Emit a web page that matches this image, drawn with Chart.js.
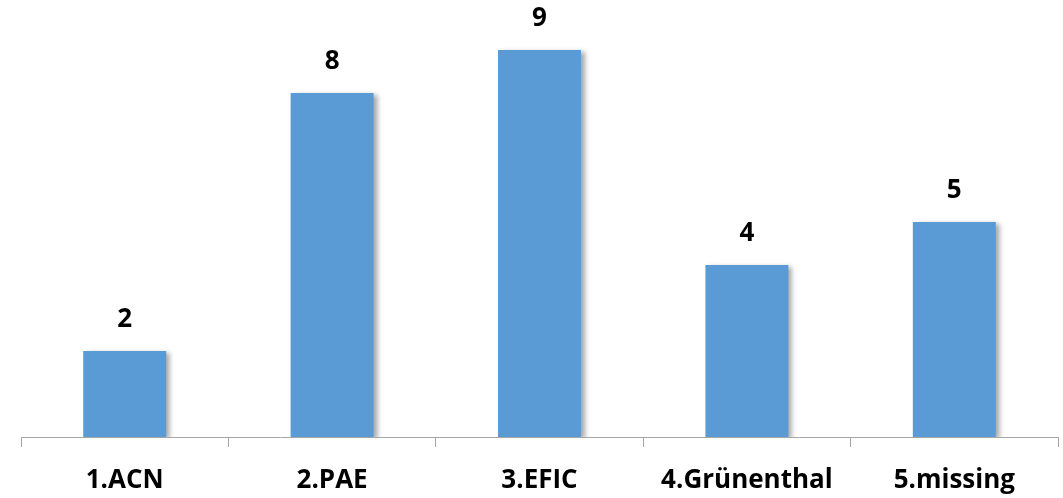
<!DOCTYPE html>
<html>
<head>
<meta charset="utf-8">
<script src="https://cdn.jsdelivr.net/npm/chart.js@4/dist/chart.umd.min.js"></script>
<style>
  html, body { margin: 0; padding: 0; background: #fff; }
  #wrap { width: 1063px; height: 498px; }
</style>
</head>
<body>
<div id="wrap"><canvas id="chart"></canvas></div>
<script>
const categories = ['1.ACN', '2.PAE', '3.EFIC', '4.Grünenthal', '5.missing'];
const counts = [2, 8, 9, 4, 5];

const barColor = '#5B9BD5';
const axisColor = '#A6A6A6';
const fontFamily = "'Open Sans', 'DejaVu Sans', sans-serif";
const labelFont = { family: fontFamily, size: 26, weight: 'bold', lineHeight: '43px' };

// soft drop shadow behind the bars
const shadowPlugin = {
  id: 'barShadow',
  beforeDatasetsDraw: function(chart) {
    const ctx = chart.ctx;
    ctx.save();
    ctx.shadowColor = 'rgba(0,0,0,0.35)';
    ctx.shadowBlur = 5;
    ctx.shadowOffsetX = 4;
    ctx.shadowOffsetY = 2;
  },
  afterDatasetsDraw: function(chart) {
    chart.ctx.restore();
  }
};

// value above each bar
const valueLabels = {
  id: 'valueLabels',
  afterDraw: function(chart) {
    const ctx = chart.ctx;
    const meta = chart.getDatasetMeta(0);
    ctx.save();
    ctx.font = 'bold 26px ' + fontFamily;
    ctx.fillStyle = '#000';
    ctx.textAlign = 'center';
    ctx.textBaseline = 'middle';
    meta.data.forEach(function(bar, i) {
      ctx.fillText(String(counts[i]), bar.x, bar.y - 31);
    });
    ctx.restore();
  }
};

new Chart(document.getElementById('chart'), {
  type: 'bar',
  data: {
    labels: categories,
    datasets: [{
      data: counts,
      backgroundColor: barColor,
      borderWidth: 0,
      barPercentage: 0.8,
      categoryPercentage: 0.5
    }]
  },
  options: {
    responsive: true,
    maintainAspectRatio: false,
    animation: false,
    layout: { padding: { left: 21, right: 5, top: 7, bottom: -16 } },
    plugins: {
      legend: { display: false },
      tooltip: { enabled: false }
    },
    scales: {
      x: {
        offset: true,
        border: { display: true, color: axisColor, width: 1 },
        grid: {
          offset: true,
          drawOnChartArea: false,
          drawTicks: true,
          tickLength: 10,
          color: axisColor
        },
        ticks: {
          color: '#000',
          font: labelFont,
          padding: 12,
          maxRotation: 0
        }
      },
      y: {
        display: false,
        min: 0,
        max: 10
      }
    }
  },
  plugins: [shadowPlugin, valueLabels]
});
</script>
</body>
</html>
